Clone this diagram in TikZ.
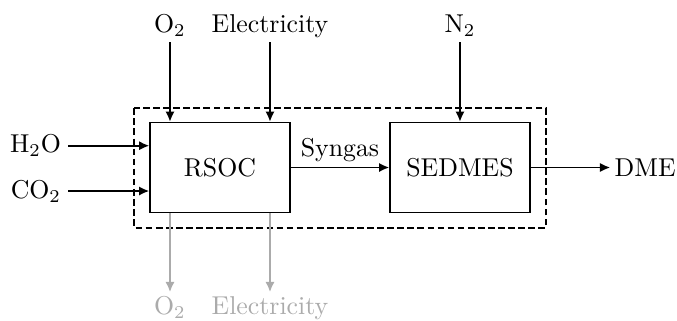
\documentclass[tikz,border=0pt]{standalone}
\usetikzlibrary{arrows.meta}
\begin{document}
\begin{tikzpicture}[x=0.3875pt,y=-0.3875pt,
  proc/.style={draw,line width=0.5pt,minimum width=54.25pt,minimum height=34.9pt,inner sep=0pt},
  flow/.style={line width=0.75pt,-{Latex[length=4pt,width=3.6pt]}},
  ghost/.style={flow,draw=black!33},
  toplbl/.style={anchor=base,inner xsep=0pt,inner ysep=1pt,text depth=2.5pt},
  botlbl/.style={anchor=base,inner xsep=0pt,inner ysep=1.5pt,text height=7pt,text=black!33},
  sidelbl/.style={anchor=east,inner sep=2.6pt},
  bound/.style={draw,line width=0.9pt,dash pattern=on 2.6pt off 1.3pt}]
\useasboundingbox (0,0) rectangle (677,320);
\draw[bound] (134.3,108.3) rectangle (546,227.7);
\node[proc] (rsoc) at (220,167.5) {RSOC};
\node[proc] (sedmes) at (460,167.5) {SEDMES};
% top inputs
\node[toplbl] (o2in) at (170,32.7) {O$_2$};
\node[toplbl] (elin) at (270,32.7) {Electricity};
\node[toplbl] (n2in) at (460,32.7) {N$_2$};
\draw[flow] (o2in.south) -- (o2in.south |- rsoc.north);
\draw[flow] (elin.south) -- (elin.south |- rsoc.north);
\draw[flow] (n2in.south) -- (sedmes.north);
% left inputs
\node[sidelbl] (h2o) at (68.3,145.7) {H$_2$O};
\node[sidelbl] (co2) at (68.3,191) {CO$_2$};
\draw[flow] (h2o.east) -- (h2o.east -| rsoc.west);
\draw[flow] (co2.east) -- (co2.east -| rsoc.west);
% syngas
\draw[flow] (rsoc.east) -- node[above,inner xsep=0pt,inner ysep=2pt] (syn) {Syngas} (sedmes.west);
% DME
\node[anchor=west,inner sep=1.5pt] (dme) at (610.3,167.5) {DME};
\draw[flow] (sedmes.east) -- (dme.west);
% bottom outputs
\node[botlbl] (o2out) at (170,314.6) {O$_2$};
\node[botlbl] (elout) at (270,314.6) {Electricity};
\draw[ghost] (o2out.north |- rsoc.south) -- (o2out.north);
\draw[ghost] (elout.north |- rsoc.south) -- (elout.north);
\end{tikzpicture}
\end{document}
